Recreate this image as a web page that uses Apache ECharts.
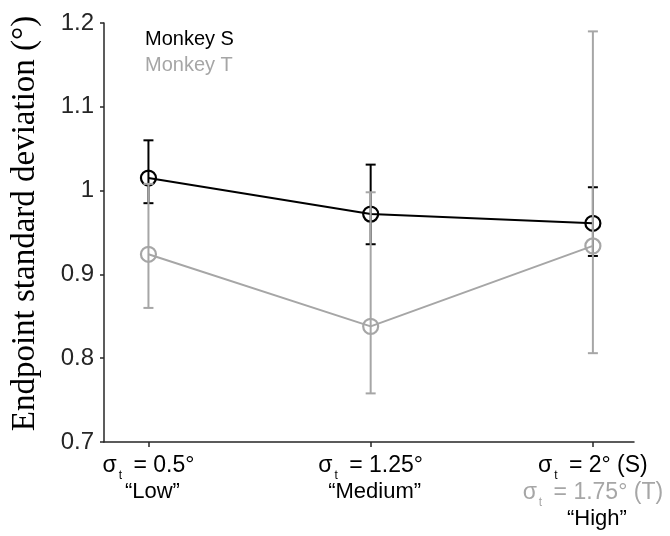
<!DOCTYPE html>
<html>
<head>
<meta charset="utf-8">
<script src="https://cdn.jsdelivr.net/npm/echarts@6/dist/echarts.min.js"></script>
<style>html,body{margin:0;padding:0;background:#fff;}#c{width:670px;height:536px;}</style>
</head>
<body>
<div id="c"></div>
<script>
// Conditions (x positions 0,1,2)
var categories = ['Low', 'Medium', 'High'];
var sigmaS = ['0.5°', '1.25°', '2° (S)'];
var sigmaT = ['', '', '1.75° (T)'];
// Monkey S (black)
var sMean  = [1.015, 0.972, 0.961];
var sUpper = [1.060, 1.031, 1.004];
var sLower = [0.985, 0.936, 0.922];
// Monkey T (gray)
var tMean  = [0.924, 0.838, 0.934];
var tUpper = [1.008, 0.998, 1.190];
var tLower = [0.860, 0.758, 0.806];
var yTicks = [0.7, 0.8, 0.9, 1.0, 1.1, 1.2];

var BLACK = '#000000';
var GRAY = '#a6a6a6';
var AXIS = '#262626';
var xIdx = [0, 1, 2];

function pairs(arr) { return arr.map(function (v, i) { return [xIdx[i], v]; }); }
function errData(lo, hi) { return lo.map(function (v, i) { return [xIdx[i], v, hi[i]]; }); }

function errRender(color) {
  return function (params, api) {
    var x = api.value(0);
    var lo = api.coord([x, api.value(1)]);
    var hi = api.coord([x, api.value(2)]);
    var hw = 5;
    var st = { stroke: color, lineWidth: 2 };
    return {
      type: 'group',
      children: [
        { type: 'line', shape: { x1: lo[0], y1: lo[1], x2: hi[0], y2: hi[1] }, style: st },
        { type: 'line', shape: { x1: lo[0] - hw, y1: lo[1], x2: lo[0] + hw, y2: lo[1] }, style: st },
        { type: 'line', shape: { x1: hi[0] - hw, y1: hi[1], x2: hi[0] + hw, y2: hi[1] }, style: st }
      ]
    };
  };
}

var FS = 23;
var chart = echarts.init(document.getElementById('c'));
chart.setOption({
  animation: false,
  backgroundColor: '#ffffff',
  grid: { left: 104, right: 36, top: 23, bottom: 94, containLabel: false, outerBoundsMode: 'none' },
  xAxis: {
    type: 'value',
    min: -0.2,
    max: 2.185,
    splitLine: { show: false },
    axisLine: { show: true, onZero: false, lineStyle: { color: AXIS, width: 1.5 } },
    axisTick: { show: true, customValues: xIdx, length: 5, inside: false, lineStyle: { color: AXIS, width: 1.5 } },
    axisLabel: {
      show: true,
      customValues: xIdx,
      margin: 12,
      formatter: function (v) {
        var i = Math.round(v);
        var s = '{s|σ}{sub|t}{s| = ' + sigmaS[i] + '}';
        if (sigmaT[i]) s += '\n{g|σ}{gsub|t}{g| = ' + sigmaT[i] + '}';
        s += '\n{n|“' + categories[i] + '”}';
        return s;
      },
      rich: {
        s: { fontFamily: 'Liberation Sans', fontSize: FS, color: BLACK, lineHeight: 27, verticalAlign: 'top' },
        sub: { fontFamily: 'Liberation Sans', fontSize: 12, color: BLACK, lineHeight: 27, padding: [16, 5, 0, 2], verticalAlign: 'top' },
        g: { fontFamily: 'Liberation Sans', fontSize: FS, color: GRAY, lineHeight: 27, verticalAlign: 'top' },
        gsub: { fontFamily: 'Liberation Sans', fontSize: 12, color: GRAY, lineHeight: 27, padding: [16, 5, 0, 2], verticalAlign: 'top' },
        n: { fontFamily: 'Liberation Sans', fontSize: 22, color: BLACK, lineHeight: 27, verticalAlign: 'top', padding: [0, 0, 0, 8] }
      }
    }
  },
  yAxis: {
    type: 'value',
    min: 0.7,
    max: 1.2,
    interval: 0.1,
    name: 'Endpoint standard deviation (°)',
    nameLocation: 'middle',
    nameGap: 62,
    nameTextStyle: { fontFamily: 'Liberation Serif', fontSize: 33, color: BLACK, padding: [0, 0, 0, 18] },
    splitLine: { show: false },
    axisLine: { show: true, onZero: false, lineStyle: { color: AXIS, width: 1.5 } },
    axisTick: { show: true, length: 4, inside: false, lineStyle: { color: AXIS, width: 1.5 } },
    axisLabel: {
      margin: 10,
      fontFamily: 'Liberation Sans',
      fontSize: 24,
      color: AXIS,
      formatter: function (v) { return String(Math.round(v * 10) / 10); }
    }
  },
  graphic: [
    { type: 'text', left: 145, top: 29, style: { text: 'Monkey S', fontFamily: 'Liberation Sans', fontSize: 20, fill: BLACK } },
    { type: 'text', left: 145, top: 55, style: { text: 'Monkey T', fontFamily: 'Liberation Sans', fontSize: 20, fill: GRAY } }
  ],
  series: [
    { name: 'Monkey S err', type: 'custom', renderItem: errRender(BLACK), data: errData(sLower, sUpper), z: 2 },
    { name: 'Monkey S', type: 'line', data: pairs(sMean), symbol: 'circle', symbolSize: 15,
      lineStyle: { color: BLACK, width: 2 },
      itemStyle: { color: 'rgba(0,0,0,0)', borderColor: BLACK, borderWidth: 2.2 }, z: 3 },
    { name: 'Monkey T err', type: 'custom', renderItem: errRender(GRAY), data: errData(tLower, tUpper), z: 4 },
    { name: 'Monkey T', type: 'line', data: pairs(tMean), symbol: 'circle', symbolSize: 15,
      lineStyle: { color: GRAY, width: 2 },
      itemStyle: { color: 'rgba(0,0,0,0)', borderColor: GRAY, borderWidth: 2.2 }, z: 5 }
  ]
});
</script>
</body>
</html>
